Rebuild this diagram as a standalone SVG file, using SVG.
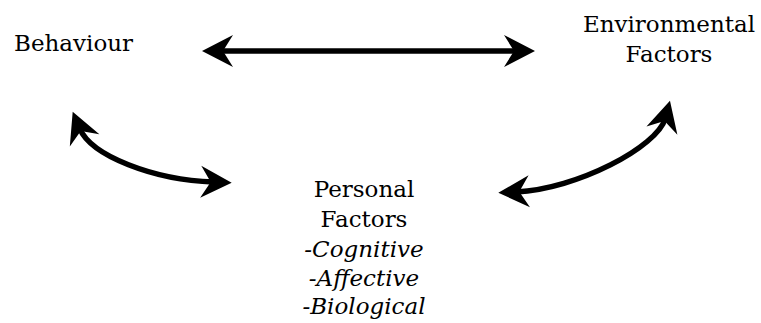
<svg xmlns="http://www.w3.org/2000/svg" width="761" height="323" viewBox="0 0 761 323">
<style>
text{font-family:"DejaVu Serif","Liberation Serif",serif;font-size:23px;fill:#000}
.c{text-anchor:middle}
.i{font-style:italic}
.arr{fill:none;stroke:#000;stroke-width:5.5;marker-start:url(#ah);marker-end:url(#ah)}
</style>
<defs>
<marker id="ah" markerUnits="userSpaceOnUse" viewBox="-20 -20 40 40" markerWidth="40" markerHeight="40" refX="0" refY="0" orient="auto-start-reverse">
<path d="M18,0 L-13,-16 L-3,0 L-13,16 Z" fill="#000"/>
</marker>
</defs>
<rect width="761" height="323" fill="#fff"/>
<g id="behaviour"><text x="14" y="51">Behaviour</text></g>
<g id="environmental"><text class="c" x="669" y="32">Environmental</text><text class="c" x="669" y="62">Factors</text></g>
<g id="personal">
<text class="c" x="364" y="197">Personal</text>
<text class="c" x="364" y="227">Factors</text>
<text class="c i" x="364" y="257">-Cognitive</text>
<text class="c i" x="364" y="286">-Affective</text>
<text class="c i" x="364" y="314">-Biological</text>
</g>
<g id="connectors">
<path class="arr" d="M220,51 L517,51"/>
<path class="arr" d="M79.6,128.3 C91.1,156 153.7,180 213.7,182.1"/>
<path class="arr" d="M516.3,191.9 C576.3,189.3 657.5,147.1 665.3,118.1"/>
</g>
</svg>
